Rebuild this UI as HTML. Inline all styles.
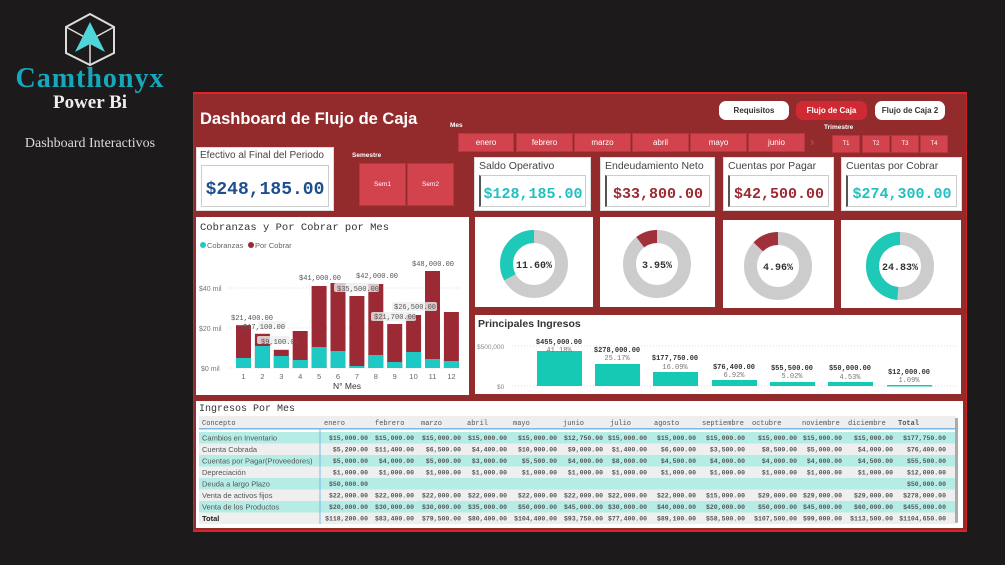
<!DOCTYPE html>
<html><head><meta charset="utf-8"><style>
*{margin:0;padding:0;box-sizing:border-box}
body{width:1005px;height:565px;background:#1c1a1b;position:relative;overflow:hidden;font-family:"Liberation Sans",sans-serif}
.a{position:absolute}
.btn{position:absolute;background:#d3434d;color:#fff;font-size:8px;display:flex;align-items:center;justify-content:center;border:1px solid #b8363f}
.card{position:absolute;background:#fff;border:1px solid #ddd}
.kt{position:absolute;left:4px;top:2px;font-size:10.5px;color:#444;white-space:nowrap}
.kv{position:absolute;left:4px;right:4px;top:17px;bottom:3px;border:1px solid #ccc;border-left:2px solid #555;font-family:"Liberation Mono",monospace;font-weight:bold;font-size:15px;display:flex;align-items:flex-end;justify-content:center;padding-bottom:3px}
.pill{position:absolute;border-radius:7px;font-size:8px;font-weight:bold;display:flex;align-items:center;justify-content:center}
</style></head><body>
<!-- logo -->
<svg class="a" style="left:60px;top:12px" width="60" height="55" viewBox="0 0 60 55">
<polygon points="30,2 54,15 54,41 30,53 6,41 6,15" fill="none" stroke="#ddd" stroke-width="2"/>
<line x1="6" y1="15" x2="30" y2="28" stroke="#ddd" stroke-width="1.5"/><line x1="54" y1="15" x2="30" y2="28" stroke="#ddd" stroke-width="1.5"/><line x1="30" y1="28" x2="30" y2="53" stroke="#ddd" stroke-width="1.5"/>
<polygon points="30,10 45,40 30,32 15,40" fill="#4fd6d8"/>
</svg>
<div class="a" style="left:0;width:180px;top:63px;text-align:center;font-family:'Liberation Serif',serif;font-size:28px;font-weight:bold;color:#16a7bd;letter-spacing:1px">Camthonyx</div>
<div class="a" style="left:0;width:180px;top:92px;text-align:center;font-family:'Liberation Serif',serif;font-size:19px;font-weight:bold;color:#eee">Power Bi</div>
<div class="a" style="left:0;width:180px;top:136px;text-align:center;font-family:'Liberation Serif',serif;font-size:14px;color:#ddd">Dashboard Interactivos</div>

<!-- panel -->
<div class="a" style="left:193px;top:92px;width:774px;height:440px;background:#932a2c;border-top:2px solid #e0242a;border-bottom:2px solid #d8262c;border-left:1px solid #c22;border-right:1px solid #c22"></div>
<div class="a" style="left:200px;top:110px;font-size:16.5px;font-weight:bold;color:#fff">Dashboard de Flujo de Caja</div>

<div class="pill" style="left:719px;top:101px;width:70px;height:19px;background:#fff;color:#333">Requisitos</div>
<div class="pill" style="left:796px;top:101px;width:71px;height:19px;background:#cf2a33;color:#fff">Flujo de Caja</div>
<div class="pill" style="left:875px;top:101px;width:70px;height:19px;background:#fff;color:#333">Flujo de Caja 2</div>

<div class="a" style="left:450px;top:122px;font-size:6.5px;font-weight:bold;color:#fff">Mes</div>
<div class="btn" style="left:458px;top:133px;width:56px;height:19px">enero</div>
<div class="btn" style="left:516px;top:133px;width:57px;height:19px">febrero</div>
<div class="btn" style="left:574px;top:133px;width:57px;height:19px">marzo</div>
<div class="btn" style="left:632px;top:133px;width:57px;height:19px">abril</div>
<div class="btn" style="left:690px;top:133px;width:57px;height:19px">mayo</div>
<div class="btn" style="left:748px;top:133px;width:57px;height:19px">junio</div>
<div class="a" style="left:810px;top:134px;color:#b55;font-size:13px">›</div>
<div class="a" style="left:824px;top:124px;font-size:6.5px;font-weight:bold;color:#fff">Trimestre</div>
<div class="btn" style="left:832px;top:135px;width:28px;height:18px;font-size:6px">T1</div>
<div class="btn" style="left:862px;top:135px;width:28px;height:18px;font-size:6px">T2</div>
<div class="btn" style="left:891px;top:135px;width:28px;height:18px;font-size:6px">T3</div>
<div class="btn" style="left:920px;top:135px;width:28px;height:18px;font-size:6px">T4</div>

<div class="a" style="left:352px;top:152px;font-size:6.5px;font-weight:bold;color:#fff">Semestre</div>
<div class="btn" style="left:359px;top:163px;width:47px;height:43px;font-size:6.5px">Sem1</div>
<div class="btn" style="left:407px;top:163px;width:47px;height:43px;font-size:6.5px">Sem2</div>

<div class="card" style="left:196px;top:147px;width:138px;height:64px">
<div class="kt" style="font-size:10px;left:3px">Efectivo al Final del Periodo</div>
<div class="kv" style="border-left:1px solid #ccc;color:#1e4f8c;font-size:18px;padding-bottom:6px">$248,185.00</div></div>

<div class="card" style="left:474px;top:157px;width:117px;height:54px"><div class="kt">Saldo Operativo</div><div class="kv" style="color:#22c0c0">$128,185.00</div></div>
<div class="card" style="left:600px;top:157px;width:115px;height:54px"><div class="kt">Endeudamiento Neto</div><div class="kv" style="color:#9b2a33">$33,800.00</div></div>
<div class="card" style="left:723px;top:157px;width:111px;height:54px"><div class="kt">Cuentas por Pagar</div><div class="kv" style="color:#9b2a33">$42,500.00</div></div>
<div class="card" style="left:841px;top:157px;width:121px;height:54px"><div class="kt">Cuentas por Cobrar</div><div class="kv" style="color:#22c0c0">$274,300.00</div></div>

<svg class="a" style="left:0;top:0" width="1005" height="565">
<rect x="475" y="217" width="118" height="90" fill="#fff"/>
<rect x="600" y="217" width="115" height="90" fill="#fff"/>
<rect x="723" y="220" width="111" height="88" fill="#fff"/>
<rect x="841" y="220" width="120" height="88" fill="#fff"/>
<g font-family="Liberation Mono, monospace" font-size="10" font-weight="bold" fill="#333" text-anchor="middle">
<g transform="translate(534,264)"><circle r="27.5" fill="none" stroke="#ccc" stroke-width="13"/><circle r="27.5" fill="none" stroke="#1ec9b8" stroke-width="13" stroke-dasharray="57 200" transform="scale(-1,1) rotate(-90)"/><text y="4">11.60%</text></g>
<g transform="translate(657,264)"><circle r="27.5" fill="none" stroke="#ccc" stroke-width="13"/><circle r="27.5" fill="none" stroke="#a0303a" stroke-width="13" stroke-dasharray="18 200" transform="scale(-1,1) rotate(-90)"/><text y="4">3.95%</text></g>
<g transform="translate(778,266)"><circle r="27.5" fill="none" stroke="#ccc" stroke-width="13"/><circle r="27.5" fill="none" stroke="#a0303a" stroke-width="13" stroke-dasharray="22 200" transform="scale(-1,1) rotate(-90)"/><text y="4">4.96%</text></g>
<g transform="translate(900,266)"><circle r="27.5" fill="none" stroke="#ccc" stroke-width="13"/><circle r="27.5" fill="none" stroke="#1ec9b8" stroke-width="13" stroke-dasharray="84 200" transform="scale(-1,1) rotate(-90)"/><text y="4">24.83%</text></g>
</g>

<rect x="196" y="217" width="273" height="178" fill="#fff"/>
<text x="200" y="230" font-family="Liberation Mono, monospace" font-size="10.5" fill="#333">Cobranzas y Por Cobrar por Mes</text>
<circle cx="203" cy="245" r="3" fill="#1ec9c5"/><text x="207" y="248" font-size="7.5" fill="#666" font-family="Liberation Sans">Cobranzas</text>
<circle cx="251" cy="245" r="3" fill="#9c2a35"/><text x="255" y="248" font-size="7.5" fill="#666" font-family="Liberation Sans">Por Cobrar</text>
<g font-size="7" fill="#777" font-family="Liberation Sans">
<text x="201" y="371">$0 mil</text><text x="199" y="331">$20 mil</text><text x="199" y="291">$40 mil</text></g>
<g stroke="#ddd" stroke-dasharray="1 2"><line x1="228" y1="288" x2="462" y2="288"/><line x1="228" y1="328" x2="462" y2="328"/><line x1="228" y1="368" x2="462" y2="368"/></g>
<g id="bars"></g>
<g font-size="7.5" fill="#666" font-family="Liberation Sans" text-anchor="middle" id="xl"></g>
<text x="347" y="389" font-size="8.5" fill="#333" text-anchor="middle" font-family="Liberation Sans">N° Mes</text>
<g font-family="Liberation Mono, monospace" font-size="7" fill="#555">
<rect x="258" y="321" width="28" height="8" rx="2" fill="#eee" opacity=".7"/>
<rect x="257" y="336" width="33" height="8" rx="2" fill="#eee" opacity=".8"/>
<rect x="334" y="283" width="45" height="9" rx="2" fill="#eee" opacity=".8"/>
<rect x="371" y="312" width="45" height="9" rx="2" fill="#eee" opacity=".8"/>
<rect x="392" y="302" width="45" height="9" rx="2" fill="#eee" opacity=".8"/>
<text x="231" y="320">$21,400.00</text><text x="243" y="329">$17,100.00</text><text x="261" y="344">$9,100.00</text>
<text x="299" y="280">$41,000.00</text><text x="337" y="291">$35,500.00</text><text x="356" y="278">$42,000.00</text>
<text x="374" y="319">$21,700.00</text><text x="394" y="309">$26,500.00</text><text x="412" y="266">$48,000.00</text></g>

<rect x="475" y="315" width="486" height="79" fill="#fff"/>
<text x="478" y="327" font-size="10.5" font-weight="bold" fill="#333" font-family="Liberation Sans">Principales Ingresos</text>
<text x="477" y="349" font-size="6.5" fill="#888" font-family="Liberation Sans">$500,000</text>
<text x="497" y="389" font-size="6.5" fill="#888" font-family="Liberation Sans">$0</text>
<g stroke="#ddd" stroke-dasharray="1 2"><line x1="512" y1="346" x2="957" y2="346"/><line x1="512" y1="386" x2="957" y2="386"/></g>
<g fill="#15c9b5">
<rect x="537" y="351" width="45" height="35"/><rect x="595" y="364" width="45" height="22"/><rect x="653" y="372" width="45" height="14"/><rect x="712" y="380" width="45" height="6"/><rect x="770" y="382" width="45" height="4"/><rect x="828" y="382" width="45" height="4"/><rect x="887" y="385" width="45" height="1.5"/></g>
<g font-family="Liberation Mono, monospace" font-size="7" text-anchor="middle">
<g font-weight="bold" fill="#333"><text x="559" y="344">$455,000.00</text><text x="617" y="352">$278,000.00</text><text x="675" y="360">$177,750.00</text><text x="734" y="369">$76,400.00</text><text x="792" y="370">$55,500.00</text><text x="850" y="370">$50,000.00</text><text x="909" y="374">$12,000.00</text></g>
<g fill="#777"><text x="559" y="352">41.18%</text><text x="617" y="360">25.17%</text><text x="675" y="369">16.09%</text><text x="734" y="377">6.92%</text><text x="792" y="378">5.02%</text><text x="850" y="379">4.53%</text><text x="909" y="382">1.09%</text></g></g>

<rect x="196" y="401" width="767" height="127" fill="#fff"/>
<text x="199" y="411" font-family="Liberation Mono, monospace" font-size="10" fill="#333">Ingresos Por Mes</text>
<rect x="199" y="416" width="757" height="12" fill="#eee"/>
<rect x="199" y="428" width="757" height="1.5" fill="#7ab8e8"/>
<rect x="955" y="418" width="3" height="105" fill="#aaa" rx="1"/>
<g id="tb"></g>
<line x1="320" y1="429" x2="320" y2="524" stroke="#7ab8e8"/>
</svg>
<script>
var NS="http://www.w3.org/2000/svg";
function el(p,t,a,txt){var e=document.createElementNS(NS,t);for(var k in a)e.setAttribute(k,a[k]);if(txt!=null)e.textContent=txt;p.appendChild(e);return e;}
var tot=[21.4,17.1,9.1,18.5,41,42.5,36,42,22,26.5,48.5,28],teal=[5,11,6,4,10.5,8.5,1,6.5,3,8,4.5,3.5];
var b=document.getElementById('bars'),xl=document.getElementById('xl');
for(var i=0;i<12;i++){var x=236+i*18.9;
el(b,'rect',{x:x,y:368-2*tot[i],width:15,height:2*tot[i],fill:'#9c2a35'});
el(b,'rect',{x:x,y:368-2*teal[i],width:15,height:2*teal[i],fill:'#1ec9c5'});
el(xl,'text',{x:x+7.5,y:379},String(i+1));}
var tb=document.getElementById('tb');
var hx=[324,375,421,467,513,563,610,654,702,752,802,848,898],hn=['enero','febrero','marzo','abril','mayo','junio','julio','agosto','septiembre','octubre','noviembre','diciembre','Total'];
el(tb,'text',{x:202,y:425,'font-size':7,fill:'#555','font-family':'Liberation Mono, monospace'},'Concepto');
for(var i=0;i<13;i++)el(tb,'text',{x:hx[i],y:425,'font-size':7,fill:'#555','font-family':'Liberation Mono, monospace','font-weight':i==12?'bold':'normal'},hn[i]);
var rx=[368,414,461,507,557,603,647,696,745,797,842,893,946];
var rows=[['Cambios en Inventario','15,000.00 15,000.00 15,000.00 15,000.00 15,000.00 12,750.00 15,000.00 15,000.00 15,000.00 15,000.00 15,000.00 15,000.00 177,750.00'],
['Cuenta Cobrada','5,200.00 11,400.00 6,500.00 4,400.00 10,900.00 9,000.00 1,400.00 6,600.00 3,500.00 8,500.00 5,000.00 4,000.00 76,400.00'],
['Cuentas por Pagar(Proveedores)','5,000.00 4,000.00 5,000.00 3,000.00 5,500.00 4,000.00 8,000.00 4,500.00 4,000.00 4,000.00 4,000.00 4,500.00 55,500.00'],
['Depreciación','1,000.00 1,000.00 1,000.00 1,000.00 1,000.00 1,000.00 1,000.00 1,000.00 1,000.00 1,000.00 1,000.00 1,000.00 12,000.00'],
['Deuda a largo Plazo','50,000.00 - - - - - - - - - - - 50,000.00'],
['Venta de activos fijos','22,000.00 22,000.00 22,000.00 22,000.00 22,000.00 22,000.00 22,000.00 22,000.00 15,000.00 29,000.00 29,000.00 29,000.00 278,000.00'],
['Venta de los Productos','20,000.00 30,000.00 30,000.00 35,000.00 50,000.00 45,000.00 30,000.00 40,000.00 20,000.00 50,000.00 45,000.00 60,000.00 455,000.00'],
['Total','118,200.00 83,400.00 79,500.00 80,400.00 104,400.00 93,750.00 77,400.00 89,100.00 58,500.00 107,500.00 99,000.00 113,500.00 1104,650.00']];
for(var r=0;r<8;r++){var y=432+r*11.5;
el(tb,'rect',{x:199,y:y,width:756,height:11.5,fill:(r%2==0&&r<7)?'#b5ede6':'#efefef'});
el(tb,'text',{x:202,y:y+8.5,'font-size':7.5,fill:r==7?'#222':'#555','font-weight':r==7?'bold':'normal','font-family':'Liberation Sans'},rows[r][0]);
var v=rows[r][1].split(' ');
for(var c=0;c<13;c++){if(v[c]=='-')continue;el(tb,'text',{x:rx[c],y:y+8,'font-size':6.5,fill:'#555','font-weight':'bold','text-anchor':'end','font-family':'Liberation Mono, monospace'},'$'+v[c]);}}
</script>
</body></html>
